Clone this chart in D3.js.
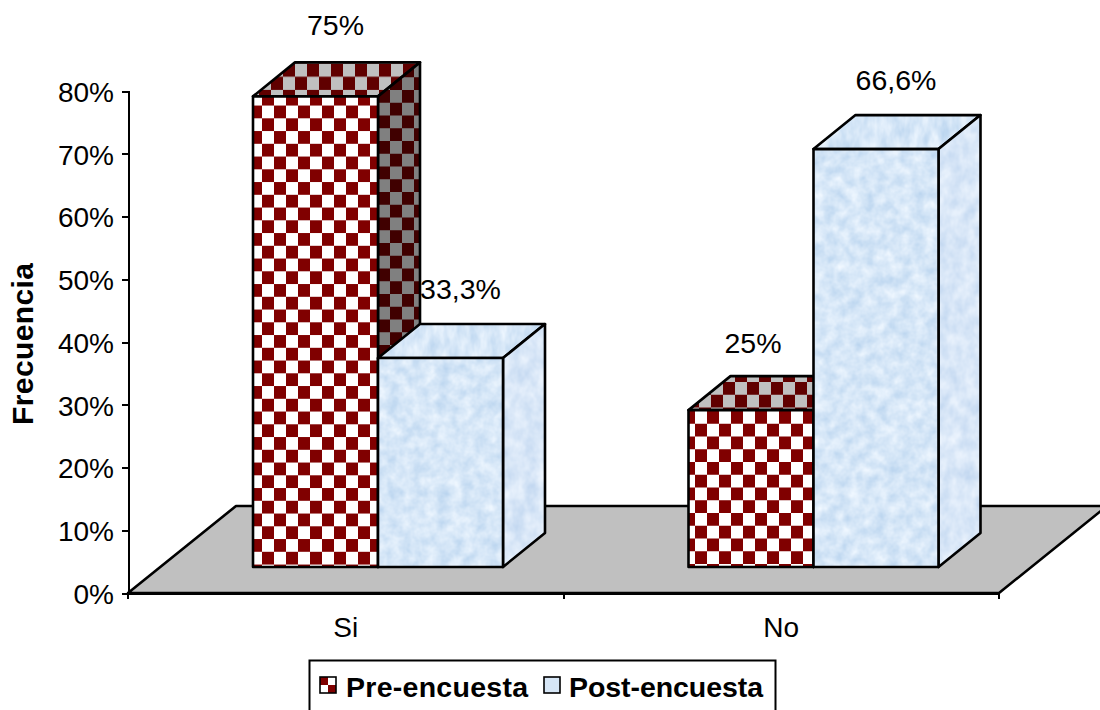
<!DOCTYPE html>
<html><head><meta charset="utf-8">
<script src="https://cdn.jsdelivr.net/npm/d3@7/dist/d3.min.js"></script>
<style>
html,body{margin:0;padding:0;background:#fff;overflow:hidden}
text{font-family:"Liberation Sans",Arial,sans-serif;fill:#000}
.axis path,.axis line{stroke:#000;stroke-width:2;shape-rendering:crispEdges}
</style></head><body>
<svg id="c" width="1100" height="710"></svg>
<script>
const categories = ["Si", "No"];
const seriesNames = ["Pre-encuesta", "Post-encuesta"];
const preValues = [75, 25];
const postValues = [33.3, 66.6];
const preLabels = ["75%", "25%"];
const postLabels = ["33,3%", "66,6%"];
const yTicks = [0,10,20,30,40,50,60,70,80];

const svg = d3.select("#c");
const defs = svg.append("defs");

const y = d3.scaleLinear().domain([0,80]).range([593,91]);
const x0 = d3.scaleBand().domain(categories).range([128,999]);
const x1 = d3.scaleBand().domain(seriesNames).range([125,375]);
const frontDrop = 26, dx = 42, dy = -34;
const floorDx = 108, floorDy = -87;
const edge = 2.6;

function checker(id, ax, ay, cw, ch, a, b){
  const p = defs.append("pattern").attr("id",id).attr("patternUnits","userSpaceOnUse")
    .attr("width",cw*2).attr("height",ch*2)
    .attr("patternTransform",`translate(${ax},${ay})`);
  p.append("rect").attr("width",cw*2).attr("height",ch*2).attr("fill",b);
  p.append("rect").attr("width",cw).attr("height",ch).attr("fill",a);
  p.append("rect").attr("x",cw).attr("y",ch).attr("width",cw).attr("height",ch).attr("fill",a);
}
checker("pf0",262,118.3,12,12.75,"#800000","#ffffff");
checker("pt0",283,63.5,12,13.2,"#600000","#c0c0c0");
checker("ps0",402,90,12,12.75,"#400000","#808080");
checker("pf1",707,411,12,12.75,"#800000","#ffffff");
checker("pt1",723,382,12,12.75,"#600000","#c0c0c0");
checker("ps1",402,90,12,12.75,"#400000","#808080");
checker("pl",320,677,8,8,"#800000","#ffffff");

function tex(id, fx, fy, seed, m){
  const f = defs.append("filter").attr("id",id).attr("x",0).attr("y",0).attr("width",1).attr("height",1)
    .attr("color-interpolation-filters","sRGB");
  f.append("feTurbulence").attr("type","fractalNoise").attr("baseFrequency",`${fx} ${fy}`)
    .attr("numOctaves",3).attr("seed",seed).attr("result","n");
  f.append("feColorMatrix").attr("in","n").attr("type","matrix")
    .attr("values",`${m[0]} 0 0 0 ${m[1]}  ${m[2]} 0 0 0 ${m[3]}  ${m[4]} 0 0 0 ${m[5]}  0 0 0 0 1`).attr("result","c");
  f.append("feComposite").attr("in","c").attr("in2","SourceAlpha").attr("operator","in");
}
tex("tf",0.08,0.08,4,[0.26,0.71,0.17,0.82,0.08,0.93]);
tex("tt",0.10,0.05,9,[0.26,0.71,0.17,0.82,0.08,0.93]);
tex("ts",0.08,0.06,2,[0.22,0.74,0.15,0.83,0.07,0.935]);

// floor
const x0a = x0.range()[0], x0b = x0.range()[1], yb = y(0);
svg.append("path")
  .attr("d",d3.line()([[x0a,yb],[x0a+floorDx,yb+floorDy],[x0b+floorDx,yb+floorDy],[x0b,yb]])+"Z")
  .attr("fill","#c0c0c0").attr("stroke","#000").attr("stroke-width",edge).attr("stroke-linejoin","round");

// axes
const tickFont = 28;
const ya = d3.axisLeft(y).tickValues(yTicks).tickFormat(d=>d+"%").tickSize(6).tickPadding(8).tickSizeOuter(6);
const ag = svg.append("g").attr("class","axis").attr("transform",`translate(${x0a},0)`).call(ya);
ag.selectAll("text").attr("font-size",tickFont).style("font-family",'"Liberation Sans",Arial,sans-serif').attr("dy","0.37em");

const xa = d3.axisBottom(x0).tickSize(0).tickSizeOuter(0).tickPadding(24);
const xg = svg.append("g").attr("class","axis").attr("transform",`translate(0,${yb})`).call(xa);
xg.selectAll("text").attr("font-size",tickFont).style("font-family",'"Liberation Sans",Arial,sans-serif');
xg.select(".domain").attr("stroke-width",edge);
d3.range(categories.length+1).forEach(i=>{
  const px = x0a + i*x0.step();
  xg.append("line").attr("x1",px).attr("x2",px).attr("y1",0).attr("y2",6);
});

function bar(cat, name, v, fillF, fillT, fillS, flt){
  const l = x0(cat)+x1(name), r = l+x1.bandwidth();
  const t = y(v)-frontDrop, b = y(0)-frontDrop;
  const faces = [
    {pts:[[l,t],[r,t],[r+dx,t+dy],[l+dx,t+dy]], fill:fillT, f:flt&&"url(#tt)"},
    {pts:[[r,t],[r+dx,t+dy],[r+dx,b+dy],[r,b]], fill:fillS, f:flt&&"url(#ts)"},
    {pts:[[l,t],[r,t],[r,b],[l,b]], fill:fillF, f:flt&&"url(#tf)"}
  ];
  faces.forEach(o=>{
    const d = d3.line()(o.pts)+"Z";
    const pth = svg.append("path").attr("d",d).attr("fill",o.fill);
    if(o.f) pth.attr("filter",o.f);
    svg.append("path").attr("d",d).attr("fill","none").attr("stroke","#000").attr("stroke-width",edge).attr("stroke-linejoin","round");
  });
  return {cx:(l+r)/2+dx/2, topY:t+dy};
}
const labelsOut = [];
categories.forEach((c,i)=>{
  const a = bar(c,seriesNames[0],preValues[i],`url(#pf${i})`,`url(#pt${i})`,`url(#ps${i})`,false);
  labelsOut.push([a,preLabels[i], i==0?-1:-19, i==0?-27:-23]);
  const b = bar(c,seriesNames[1],postValues[i],"#d6e6f6","#d6e6f6","#d6e6f6",true);
  labelsOut.push([b,postLabels[i], -1, -25]);
});
labelsOut.forEach(([p,t,ox,oy])=>{
  svg.append("text").attr("x",p.cx+ox).attr("y",p.topY+oy).attr("text-anchor","middle").attr("font-size",28.5).text(t);
});

// y title
svg.append("text").attr("transform","translate(33,344) rotate(-90)").attr("text-anchor","middle")
  .attr("font-size",30).attr("font-weight","bold").attr("textLength",162).text("Frecuencia");

// legend
svg.append("rect").attr("x",309.5).attr("y",660.5).attr("width",466).attr("height",60)
  .attr("fill","#fff").attr("stroke","#000").attr("stroke-width",2);
const lx = [320,544], ltx = [346,569], ltw = [182,194];
seriesNames.forEach((n,i)=>{
  svg.append("rect").attr("x",lx[i]).attr("y",677).attr("width",16).attr("height",16)
    .attr("fill",i==0?"url(#pl)":"#d6e6f6").attr("stroke","#000").attr("stroke-width",1.6);
  svg.append("text").attr("x",ltx[i]).attr("y",697).attr("font-size",28.5).attr("font-weight","bold")
    .attr("textLength",ltw[i]).text(n);
});
</script>
</body></html>
